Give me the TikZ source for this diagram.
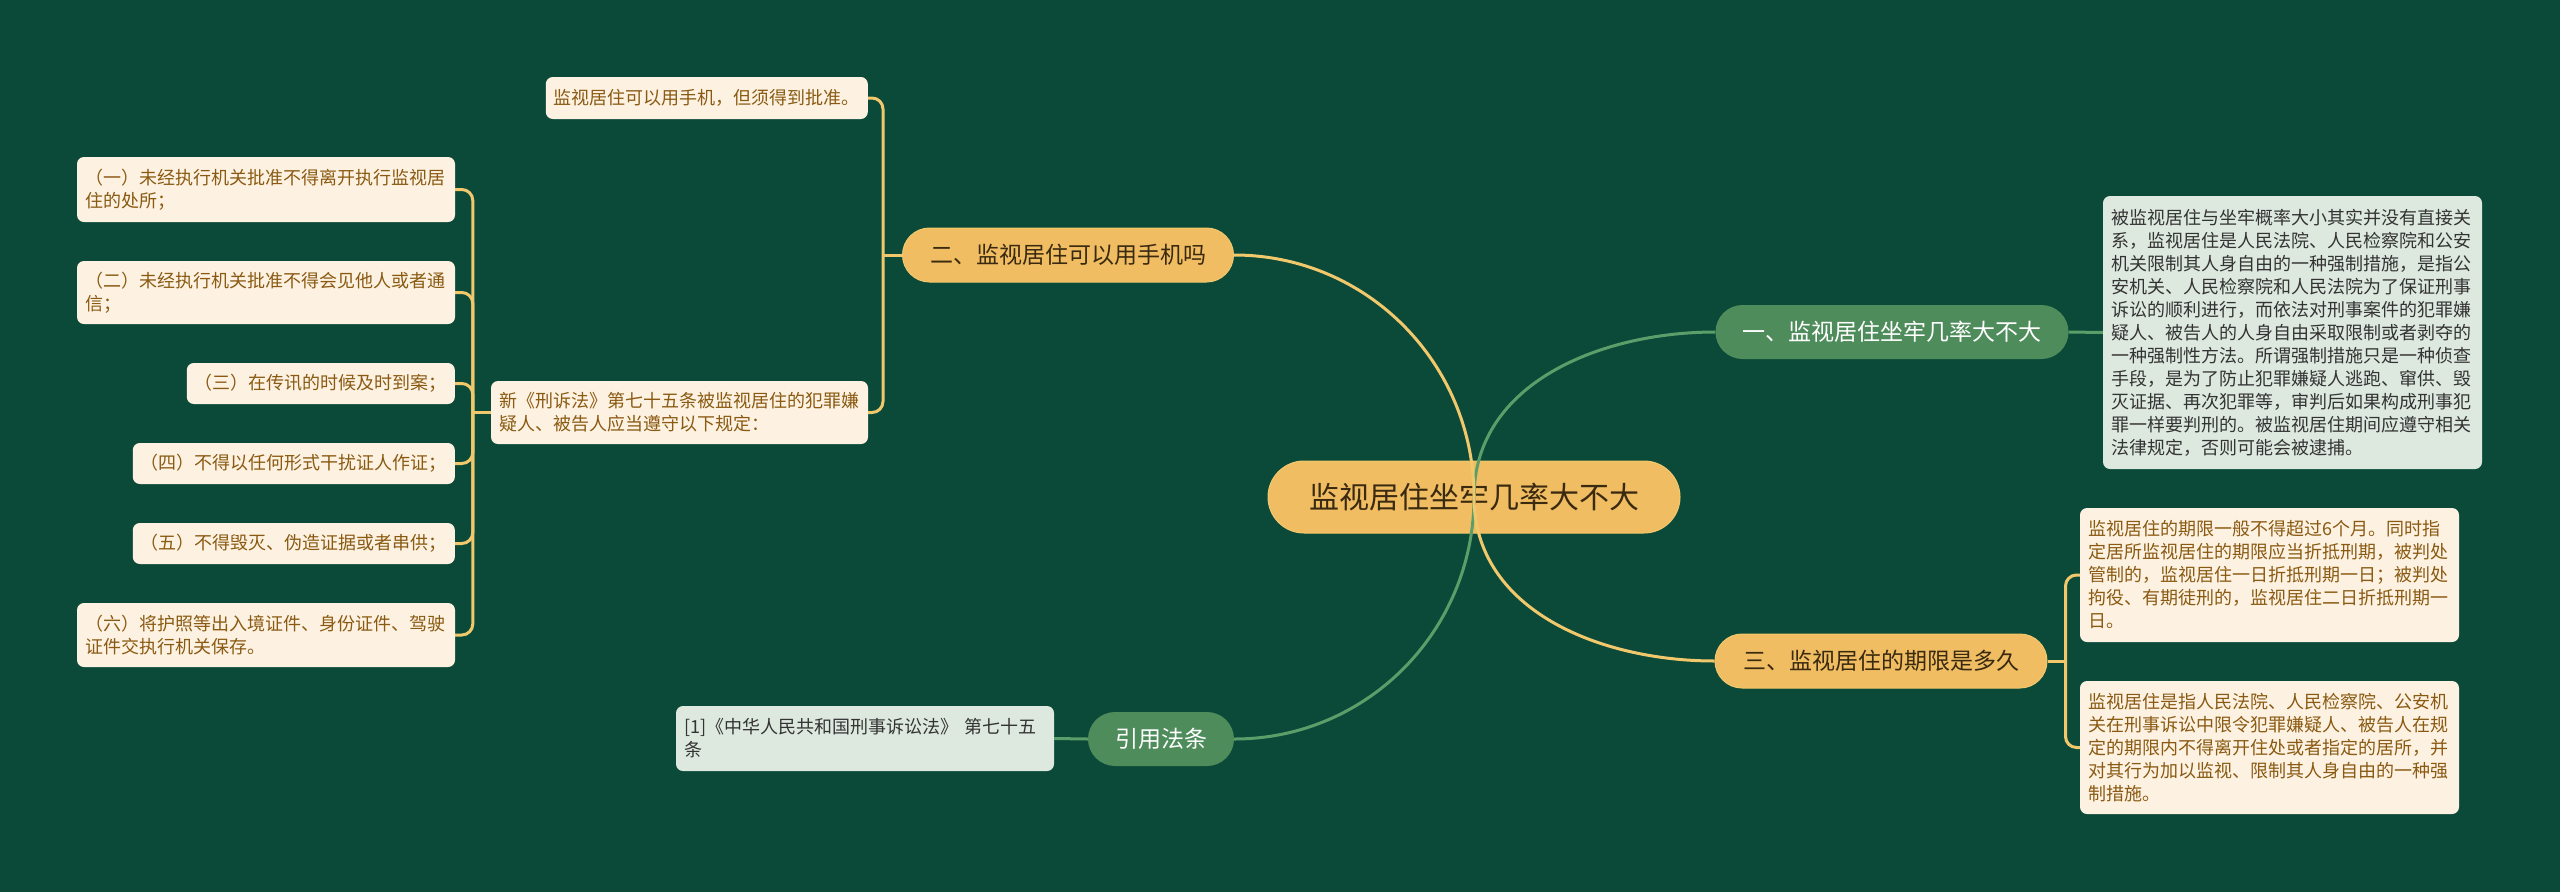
\documentclass[tikz,border=0pt]{standalone}
\usepackage{fontspec}
\setmainfont{Noto Sans CJK SC}
\usetikzlibrary{positioning}

\definecolor{bgGreen}{HTML}{0B4A39}
\definecolor{goldFill}{HTML}{F0BD63}
\definecolor{goldLine}{HTML}{F2C86C}
\definecolor{goldText}{HTML}{8A5A12}
\definecolor{darkText}{HTML}{3A2A10}
\definecolor{leafFill}{HTML}{FDF2E2}
\definecolor{greenFill}{HTML}{4F8C5B}
\definecolor{greenLine}{HTML}{5C9E69}
\definecolor{paleGreen}{HTML}{DDE9DF}

\begin{document}
\begin{tikzpicture}[
    x=1pt, y=-1pt,
    root/.style={rectangle, rounded corners=36pt, fill=goldFill, draw=goldLine, line width=1pt, minimum width=412pt, minimum height=72pt, font=\fontsize{30}{36}\selectfont, text=darkText},
    topic/.style={rectangle, rounded corners=27pt, minimum height=54pt, font=\fontsize{23}{28}\selectfont},
    gold topic/.style={topic, fill=goldFill, draw=goldLine, line width=1pt, text=darkText},
    green topic/.style={topic, fill=greenFill, text=white},
    leaf/.style={rectangle, rounded corners=7pt, align=left, inner xsep=8pt, inner ysep=0pt, font=\fontsize{18}{23}\selectfont},
    gold leaf/.style={leaf, fill=leafFill, text=goldText},
    green leaf/.style={leaf, fill=paleGreen, text=black!80},
    gold edge/.style={draw=goldLine, line width=3pt},
    green edge/.style={draw=greenLine, line width=3pt},
    bracket/.style={gold edge, rounded corners=11pt}
]

\fill[bgGreen] (0,0) rectangle (2560,892);

% ====================
% Main nodes
% ====================
\node[root] (root) at (1474,497) {监视居住坐牢几率大不大};
\node[green topic, minimum width=353pt] (b1) at (1892,332) {一、监视居住坐牢几率大不大};
\node[gold topic, minimum width=331pt] (b2) at (1068,255) {二、监视居住可以用手机吗};
\node[gold topic, minimum width=332pt] (b3) at (1881,661) {三、监视居住的期限是多久};
\node[green topic, minimum width=146pt] (b4) at (1161,739) {引用法条};

% ====================
% Leaves, right side
% ====================
\node[green leaf, text width=363pt, minimum height=273pt] (def) at (2292.5,332.5) {被监视居住与坐牢概率大小其实并没有直接关\\系，监视居住是人民法院、人民检察院和公安\\机关限制其人身自由的一种强制措施，是指公\\安机关、人民检察院和人民法院为了保证刑事\\诉讼的顺利进行，而依法对刑事案件的犯罪嫌\\疑人、被告人的人身自由采取限制或者剥夺的\\一种强制性方法。所谓强制措施只是一种侦查\\手段，是为了防止犯罪嫌疑人逃跑、窜供、毁\\灭证据、再次犯罪等，审判后如果构成刑事犯\\罪一样要判刑的。被监视居住期间应遵守相关\\法律规定，否则可能会被逮捕。};
\node[gold leaf, text width=363pt, minimum height=134pt] (termA) at (2269.5,575) {监视居住的期限一般不得超过6个月。同时指\\定居所监视居住的期限应当折抵刑期，被判处\\管制的，监视居住一日折抵刑期一日；被判处\\拘役、有期徒刑的，监视居住二日折抵刑期一\\日。};
\node[gold leaf, text width=363pt, minimum height=133pt] (termB) at (2269.5,747.5) {监视居住是指人民法院、人民检察院、公安机\\关在刑事诉讼中限令犯罪嫌疑人、被告人在规\\定的期限内不得离开住处或者指定的居所，并\\对其行为加以监视、限制其人身自由的一种强\\制措施。};

% ====================
% Leaves, left side
% ====================
\node[green leaf, text width=362pt, minimum height=65pt] (lawref) at (865,738.5) {[1]《中华人民共和国刑事诉讼法》 第七十五\\条};
\node[gold leaf, anchor=east, minimum height=42pt] (phone) at (868,98) {监视居住可以用手机，但须得到批准。};
\node[gold leaf, text width=361pt, minimum height=63pt] (art75) at (679.5,412.5) {新《刑诉法》第七十五条被监视居住的犯罪嫌\\疑人、被告人应当遵守以下规定：};

% Sei obblighi
\node[gold leaf, text width=362pt, minimum height=65pt] (c1) at (266,189.5) {（一）未经执行机关批准不得离开执行监视居\\住的处所；};
\node[gold leaf, text width=362pt, minimum height=63pt] (c2) at (266,292.5) {（二）未经执行机关批准不得会见他人或者通\\信；};
\node[gold leaf, anchor=east, minimum height=41pt] (c3) at (455,383.5) {（三）在传讯的时候及时到案；};
\node[gold leaf, anchor=east, minimum height=41pt] (c4) at (455,463.5) {（四）不得以任何形式干扰证人作证；};
\node[gold leaf, anchor=east, minimum height=41pt] (c5) at (455,543.5) {（五）不得毁灭、伪造证据或者串供；};
\node[gold leaf, text width=362pt, minimum height=64pt] (c6) at (266,635) {（六）将护照等出入境证件、身份证件、驾驶\\证件交执行机关保存。};

% ====================
% Connectors
% ====================
\draw[green edge] (root.center) to[out=90, in=180] (b1.west);
\draw[green edge] (root.center) to[out=-90, in=0] (b4.east);
\draw[gold edge] (root.center) to[out=90, in=0] (b2.east);
\draw[gold edge] (root.center) to[out=-90, in=180] (b3.west);

\draw[green edge] (b1.east) -- (def.west);
\draw[green edge] (b4.west) -- (lawref.east);

% Brackets
\coordinate (j2) at ([xshift=-19pt]b2.west);
\draw[gold edge] (b2.west) -- (j2);
\draw[bracket] (j2) |- (phone.east);
\draw[bracket] (j2) |- (art75.east);

\coordinate (j75) at ([xshift=-18pt]art75.west);
\draw[gold edge] (art75.west) -- (j75);
\draw[bracket] (j75) |- (c1.east); \draw[bracket] (j75) |- (c2.east);
\draw[bracket] (j75) |- (c3.east); \draw[bracket] (j75) |- (c4.east);
\draw[bracket] (j75) |- (c5.east); \draw[bracket] (j75) |- (c6.east);

\coordinate (j3) at ([xshift=18pt]b3.east);
\draw[gold edge] (b3.east) -- (j3);
\draw[bracket] (j3) |- (termA.west);
\draw[bracket] (j3) |- (termB.west);

\end{tikzpicture}
\end{document}
